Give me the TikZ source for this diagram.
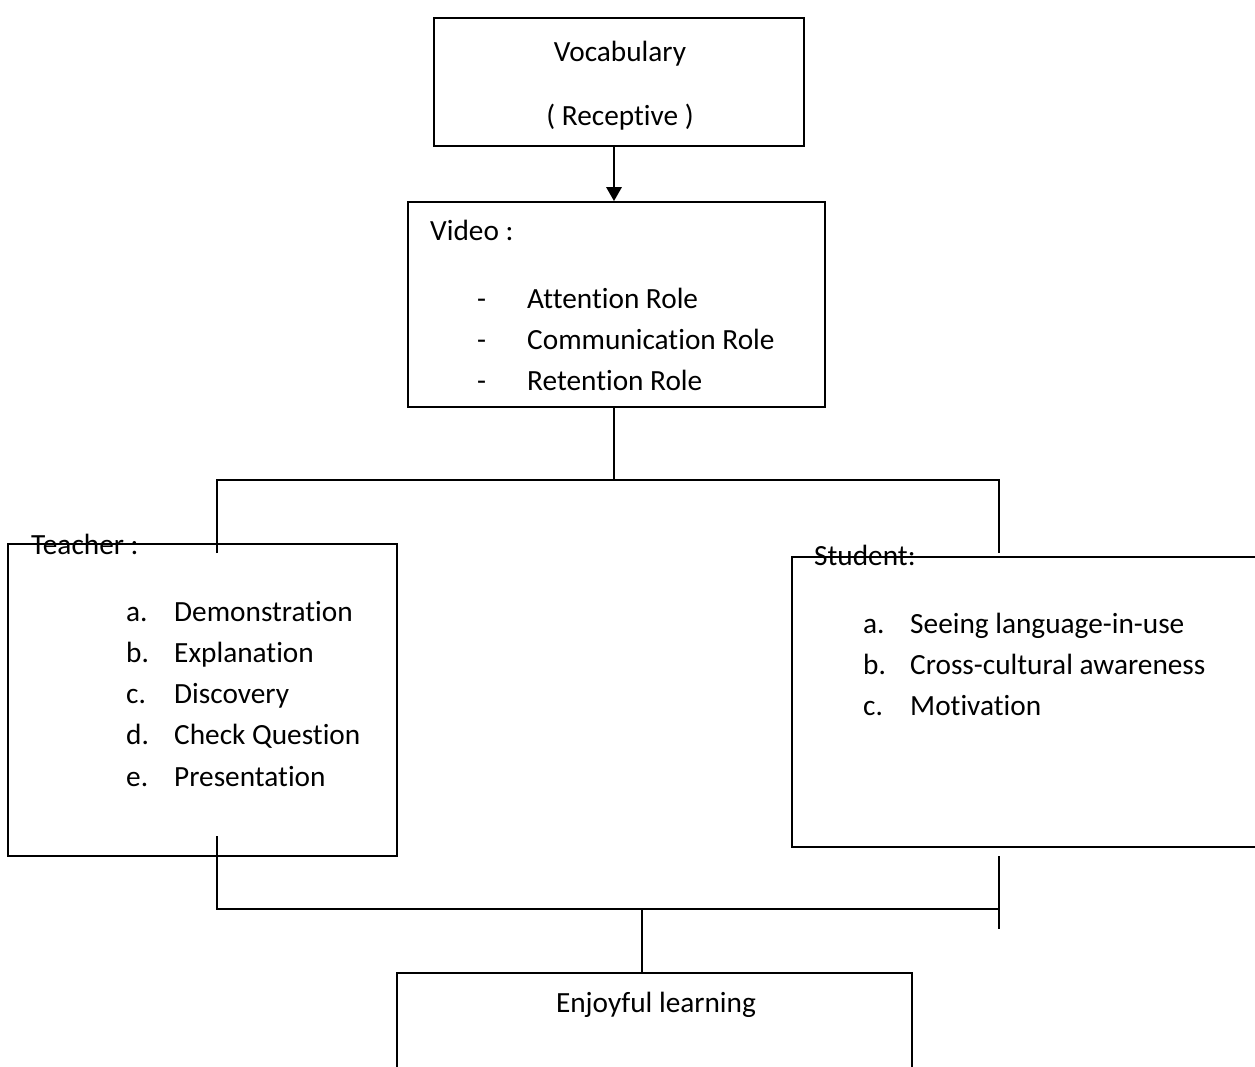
\documentclass[tikz,border=0pt]{standalone}
\usepackage{fontspec}
\setmainfont{Carlito}[RawFeature={-liga;-clig;-calt;-dlig}]
\usetikzlibrary{arrows.meta}
\begin{document}
\begin{tikzpicture}[x=1pt,y=-1pt,
  box/.style={draw,line width=1.7pt,rectangle,inner sep=0pt},
  txt/.style={anchor=base west,inner sep=0pt,font=\fontsize{29.3}{35}\selectfont},
  ctxt/.style={anchor=base,inner sep=0pt,font=\fontsize{29.3}{35}\selectfont},
  conn/.style={line width=1.7pt},
  arr/.style={line width=2.8pt,-{Triangle[length=14pt,width=15pt]}}]
\useasboundingbox (0,0) rectangle (1255,1066);
\clip (0,0) rectangle (1255,1066);
% boxes
\node[box,minimum width=370pt,minimum height=128pt] (vocab) at (619,82) {};
\node[box,minimum width=417pt,minimum height=205pt] (video) at (616.5,304.5) {};
\node[box,minimum width=389pt,minimum height=312pt] (teacher) at (202.5,700) {};
\node[box,minimum width=480pt,minimum height=290pt] (student) at (1032,702) {};
\node[box,minimum width=515pt,minimum height=120pt] (enjoy) at (654.5,1033) {};
% texts
\node[ctxt] (t1) at (620,61) {Vocabulary};
\node[ctxt] (t2) at (620,125) {( Receptive )};
\node[txt] (v0) at (430,240) {Video :};
\node[txt] (v1d) at (477,308) {-};
\node[txt] (v1) at (527,308) {Attention Role};
\node[txt] (v2d) at (477,349) {-};
\node[txt] (v2) at (527,349) {Communication Role};
\node[txt] (v3d) at (477,390) {-};
\node[txt] (v3) at (527,390) {Retention Role};
\node[txt] (th) at (31,554) {Teacher :};
\node[txt] (ta) at (126,621) {a.};
\node[txt] (tat) at (174,621) {Demonstration};
\node[txt] (tb) at (126,662) {b.};
\node[txt] (tbt) at (174,662) {Explanation};
\node[txt] (tc) at (126,703) {c.};
\node[txt] (tct) at (174,703) {Discovery};
\node[txt] (td) at (126,744) {d.};
\node[txt] (tdt) at (174,744) {Check Question};
\node[txt] (te) at (126,786) {e.};
\node[txt] (tet) at (174,786) {Presentation};
\node[txt] (sh) at (814,565) {Student:};
\node[txt] (sa) at (863,633) {a.};
\node[txt] (sat) at (910,633) {Seeing language-in-use};
\node[txt] (sb) at (863,674) {b.};
\node[txt] (sbt) at (910,674) {Cross-cultural awareness};
\node[txt] (sc) at (863,715) {c.};
\node[txt] (sct) at (910,715) {Motivation};
\node[ctxt] (el) at (656,1012) {Enjoyful learning};
% connector coordinates
\coordinate (a1) at (614,0);
\coordinate (j1) at (614,480);
\coordinate (jl) at (217,480);
\coordinate (jr) at (999,480);
\coordinate (tl) at (217,553);
\coordinate (sl) at (999,553);
\coordinate (bl0) at (217,836);
\coordinate (bl) at (217,909);
\coordinate (br) at (999,909);
\coordinate (br0) at (999,856);
\coordinate (br1) at (999,929);
\coordinate (bc) at (642,909);
% connectors
\draw[arr] (vocab.south -| a1) -- (video.north -| a1);
\draw[conn] (video.south -| j1) -- (j1);
\draw[conn] (tl) -- (jl) -- (jr) -- (sl);
\draw[conn] (bl0) -- (bl) -- (br);
\draw[conn] (br0) -- (br1);
\draw[conn] (bc) -- (enjoy.north -| bc);
\end{tikzpicture}
\end{document}
